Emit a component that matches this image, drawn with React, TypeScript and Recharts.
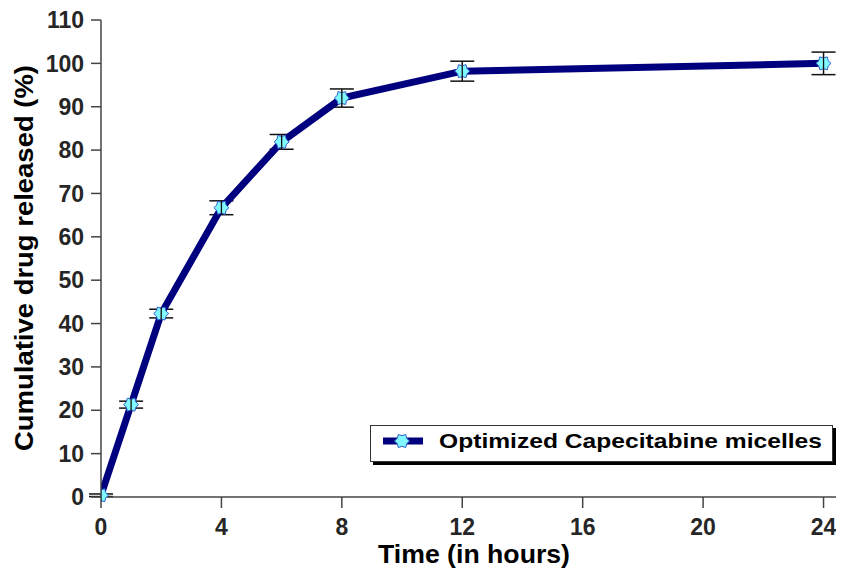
import {
  LineChart,
  Line,
  XAxis,
  YAxis,
  ErrorBar,
  Legend,
  Label,
} from "recharts"

const hours = [0, 1, 2, 4, 6, 8, 12, 24]
const released = [0.4, 21.3, 42.3, 66.7, 81.9, 92.0, 98.2, 100.0]
const sd = [0.3, 0.8, 1.0, 1.6, 1.7, 2.1, 2.3, 2.6]
const xTicks = [0, 4, 8, 12, 16, 20, 24]
const yTicks = [0, 10, 20, 30, 40, 50, 60, 70, 80, 90, 100, 110]

const data = hours.map((h, i) => ({ h, released: released[i], sd: sd[i] }))

const FONT = "'Liberation Sans', Arial, sans-serif"
const NAVY = "#00007f"
const SERIES = "Optimized Capecitabine micelles"

function starPath(cx: number, cy: number, r: number) {
  const pts: string[] = []
  for (let i = 0; i < 12; i++) {
    const a = (Math.PI / 6) * i
    const rr = i % 2 === 0 ? r : r * 0.72
    pts.push(`${cx + rr * Math.cos(a)},${cy + rr * Math.sin(a)}`)
  }
  return `M${pts.join("L")}Z`
}

// eslint-disable-next-line @typescript-eslint/no-explicit-any
function StarDot(props: any) {
  const { cx, cy, index } = props
  if (cx == null || cy == null) return null
  return (
    <g key={`dot-${index}`}>
      <path d={starPath(cx, cy, 7.5)} fill="#80f8ff" stroke="#2f5fd0" strokeWidth={1} />
      <line x1={cx} x2={cx} y1={cy - 6} y2={cy + 6} stroke="#111" strokeWidth={1.3} />
    </g>
  )
}

function LegendBox() {
  return (
    <div
      style={{
        boxSizing: "border-box",
        width: 463,
        height: 37,
        border: "1px solid #333",
        background: "#fff",
        boxShadow: "3px 3px 0 #000",
      }}
    >
      <svg width={461} height={35} style={{ display: "block" }}>
        <line x1={12} x2={52} y1={15} y2={15} stroke={NAVY} strokeWidth={7} />
        <path d={starPath(31, 15, 7.5)} fill="#80f8ff" stroke="#2f5fd0" strokeWidth={1} />
        <text
          x={68}
          y={22}
          textLength={383}
          lengthAdjust="spacingAndGlyphs"
          fontFamily={FONT}
          fontWeight={700}
          fontSize={21}
          fill="#000"
        >
          {SERIES}
        </text>
      </svg>
    </div>
  )
}

function YTitle() {
  return (
    <text
      x={25}
      y={250}
      transform="rotate(-90 25 250)"
      textAnchor="middle"
      textLength={386}
      lengthAdjust="spacingAndGlyphs"
      fontFamily={FONT}
      fontWeight={700}
      fontSize={26}
      fill="#000"
    >
      Cumulative drug released (%)
    </text>
  )
}

function XTitle() {
  return (
    <text
      x={466}
      y={555}
      textAnchor="middle"
      textLength={192}
      lengthAdjust="spacingAndGlyphs"
      fontFamily={FONT}
      fontWeight={700}
      fontSize={25}
      fill="#000"
    >
      Time (in hours)
    </text>
  )
}

export default function App() {
  return (
    <div style={{ width: 836, height: 563, background: "#fff" }}>
      <LineChart
        width={836}
        height={563}
        data={data}
        margin={{ top: 12, right: 0, left: 0, bottom: 44 }}
      >
        <XAxis
          dataKey="h"
          type="number"
          domain={[0, 24.68]}
          allowDataOverflow
          ticks={xTicks}
          interval={0}
          height={30}
          stroke="#444"
          strokeWidth={1.5}
          tickSize={11}
          tickMargin={11}
          tick={{ fontSize: 23, fontWeight: 700, fill: "#262626", fontFamily: FONT }}
        >
          <Label content={<XTitle />} />
        </XAxis>
        <YAxis
          type="number"
          domain={[0, 110]}
          ticks={yTicks}
          interval={0}
          width={93}
          stroke="#444"
          strokeWidth={1.5}
          tickSize={10}
          tickMargin={7}
          tick={{ fontSize: 23, fontWeight: 700, fill: "#262626", fontFamily: FONT }}
        >
          <Label content={<YTitle />} />
        </YAxis>
        {/* centred + middle keeps the legend from taking room off the plot */}
        <Legend
          layout="horizontal"
          verticalAlign="middle"
          align="center"
          content={<LegendBox />}
          wrapperStyle={{ left: 362, top: 417, width: 463 }}
        />
        <Line
          type="linear"
          dataKey="released"
          name={SERIES}
          stroke={NAVY}
          strokeWidth={7}
          dot={StarDot}
          activeDot={false}
          isAnimationActive={false}
        >
          <ErrorBar dataKey="sd" width={12} stroke="#111" strokeWidth={1.5} direction="y" />
        </Line>
      </LineChart>
    </div>
  )
}
